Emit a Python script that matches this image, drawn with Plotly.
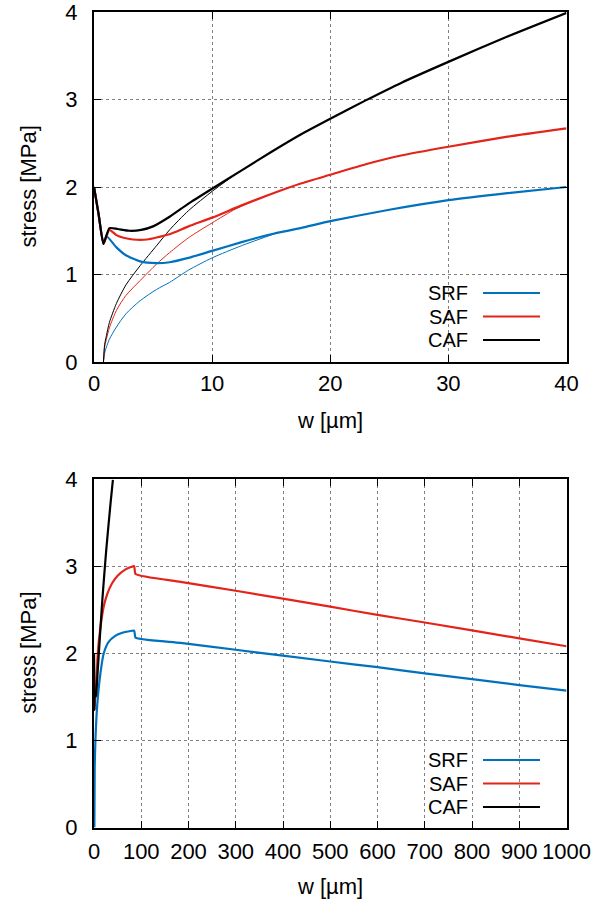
import plotly.graph_objects as go

# ---------------- top panel data (w in um, stress in MPa) ----------------
w_caf = [0, 0.4, 0.8, 1.3, 2, 3, 4, 5, 6.4, 8, 10, 12.5, 15, 17.5, 20, 23, 26, 30, 35, 40]
s_caf = [2.0, 1.68, 1.35, 1.53, 1.52, 1.50, 1.51, 1.55, 1.66, 1.81, 1.98, 2.19, 2.40, 2.60, 2.78, 2.99, 3.19, 3.43, 3.72, 3.99]

w_saf = [0, 0.4, 0.8, 1.3, 1.9, 2.5, 3.3, 4.5, 5.5, 6.4, 8, 10, 12.5, 15, 17.5, 20, 23, 26, 30, 35, 40]
s_saf = [2.0, 1.68, 1.35, 1.51, 1.45, 1.42, 1.40, 1.40, 1.43, 1.46, 1.55, 1.65, 1.79, 1.92, 2.04, 2.14, 2.26, 2.36, 2.46, 2.575, 2.67]

w_srf = [0, 0.4, 0.8, 1.05, 1.9, 2.7, 3.9, 5.3, 6.4, 8, 10, 12.5, 15, 17.5, 20, 25, 30, 35, 40]
s_srf = [2.0, 1.68, 1.35, 1.44, 1.31, 1.22, 1.15, 1.13, 1.14, 1.19, 1.27, 1.37, 1.46, 1.53, 1.61, 1.74, 1.85, 1.93, 2.0]

# thin curves (pull-out branch, merging with the thick curves)
w_caf_thin = [0.8, 0.9, 1.05, 1.3, 1.9, 2.7, 3.9, 5.3, 6.4, 8, 10, 11, 12]
s_caf_thin = [0, 0.2, 0.3, 0.45, 0.67, 0.88, 1.10, 1.33, 1.51, 1.73, 1.95, 2.05, 2.15]

w_saf_thin = [0.8, 0.9, 1.05, 1.3, 1.9, 2.7, 3.9, 5.3, 6.4, 8, 10, 12, 13.5]
s_saf_thin = [0, 0.17, 0.26, 0.39, 0.59, 0.76, 0.93, 1.12, 1.25, 1.42, 1.59, 1.75, 1.84]

w_srf_thin = [0.8, 0.9, 1.05, 1.3, 1.9, 2.7, 3.9, 5.3, 6.4, 8, 10, 12.5, 15.5]
s_srf_thin = [0, 0.1, 0.17, 0.26, 0.40, 0.55, 0.70, 0.83, 0.91, 1.05, 1.19, 1.33, 1.475]

# ---------------- bottom panel data ----------------
w_saf_b = [0, 0.8, 2, 4.5, 5.9, 8, 13, 20.7, 28, 38, 50, 66, 78, 85, 88, 183, 300, 500, 600, 700, 900, 1000]
s_saf_b = [2.0, 1.35, 1.45, 1.62, 1.77, 2.0, 2.27, 2.54, 2.68, 2.80, 2.89, 2.96, 2.99, 3.0, 2.91, 2.82, 2.717, 2.535, 2.44, 2.353, 2.171, 2.08]

w_srf_b = [0.8, 1.5, 3, 6.6, 13.6, 20.7, 31, 45, 60, 75, 85, 88, 183, 300, 500, 600, 700, 900, 1000]
s_srf_b = [0, 0.7, 1.0, 1.39, 1.77, 2.0, 2.13, 2.20, 2.235, 2.253, 2.26, 2.18, 2.12, 2.04, 1.905, 1.84, 1.77, 1.635, 1.57]

legend_names = ["SRF", "SAF", "CAF"]
x_ticks_top = [0, 10, 20, 30, 40]
x_ticks_bot = [0, 100, 200, 300, 400, 500, 600, 700, 800, 900, 1000]
y_ticks = [0, 1, 2, 3, 4]
x_title = "w [µm]"
y_title = "stress [MPa]"

BLUE = "#0072bd"
RED = "#e3241b"
BLACK = "#000000"
FONT = "Liberation Sans, Arial, sans-serif"
FS = 22

fig = go.Figure()


def add(x, y, color, width, xa, ya, smooth=0.7):
    fig.add_trace(go.Scatter(x=x, y=y, mode="lines",
                             line=dict(color=color, width=width, shape="spline", smoothing=smooth),
                             xaxis=xa, yaxis=ya, showlegend=False, hoverinfo="skip"))


# top
add(w_srf_thin, s_srf_thin, BLUE, 1, "x", "y")
add(w_saf_thin, s_saf_thin, RED, 1, "x", "y")
add(w_caf_thin, s_caf_thin, BLACK, 1, "x", "y")
add(w_srf, s_srf, BLUE, 2.2, "x", "y", 0.5)
add(w_saf, s_saf, RED, 2.2, "x", "y", 0.5)
add(w_caf, s_caf, BLACK, 2.2, "x", "y", 0.5)
# bottom
add(w_srf_b, s_srf_b, BLUE, 2.2, "x2", "y2", 0.5)
add(w_saf_b, s_saf_b, RED, 2.2, "x2", "y2", 0.5)
add(w_caf, s_caf, BLACK, 2.2, "x2", "y2", 0.5)

W, H = 597, 905


def axis_common():
    return dict(showline=True, linewidth=2, linecolor="black", mirror="allticks",
                ticks="inside", ticklen=7, tickwidth=1, tickcolor="black",
                showgrid=True, gridcolor="#808080", gridwidth=1, griddash="dot",
                zeroline=False, tickfont=dict(family=FONT, size=FS, color="black"),
                tickangle=0, automargin=False)


xd = [94 / W, 566.5 / W]
top_y = [12, 362]
bot_y = [479, 827.5]
fig.update_layout(
    width=W, height=H, margin=dict(l=0, r=0, t=0, b=0),
    paper_bgcolor="white", plot_bgcolor="white",
    font=dict(family=FONT, size=FS, color="black"),
    xaxis=dict(domain=xd, anchor="y", range=[0, 40], tickvals=x_ticks_top,
               ticklabelstandoff=1, **axis_common()),
    yaxis=dict(domain=[1 - top_y[1] / H, 1 - top_y[0] / H], anchor="x", range=[0, 4], tickvals=y_ticks,
               ticklabelstandoff=10, **axis_common()),
    xaxis2=dict(domain=xd, anchor="y2", range=[0, 1000], tickvals=x_ticks_bot,
                ticklabelstandoff=3, **axis_common()),
    yaxis2=dict(domain=[1 - bot_y[1] / H, 1 - bot_y[0] / H], anchor="x2", range=[0, 4], tickvals=y_ticks,
                ticklabelstandoff=10, **axis_common()),
)

# axis titles
for (ya, yb), xt_y in ((top_y, 421), (bot_y, 886)):
    fig.add_annotation(x=(xd[0] + xd[1]) / 2, y=1 - xt_y / H, xref="paper", yref="paper",
                       text=x_title, showarrow=False, xanchor="center", yanchor="middle",
                       font=dict(family=FONT, size=FS, color="black"))
    fig.add_annotation(x=28.5 / W, y=1 - (ya + yb) / 2 / H, xref="paper", yref="paper",
                       text=y_title, textangle=-90, showarrow=False, xanchor="center", yanchor="middle",
                       font=dict(family=FONT, size=FS, color="black"))

# manual gnuplot-style keys (text left, line sample right)
colors = [BLUE, RED, BLACK]
for y0 in (293, 760):
    for i, (name, c) in enumerate(zip(legend_names, colors)):
        yy = 1 - (y0 + i * 23.5) / H
        fig.add_annotation(x=470 / W, y=yy, xref="paper", yref="paper", text=name,
                           showarrow=False, xanchor="right", yanchor="middle",
                           font=dict(family=FONT, size=20, color="black"))
        fig.add_shape(type="line", xref="paper", yref="paper", x0=483 / W, x1=540 / W,
                      y0=yy, y1=yy, line=dict(color=c, width=2))

fig.write_html("out.html")
